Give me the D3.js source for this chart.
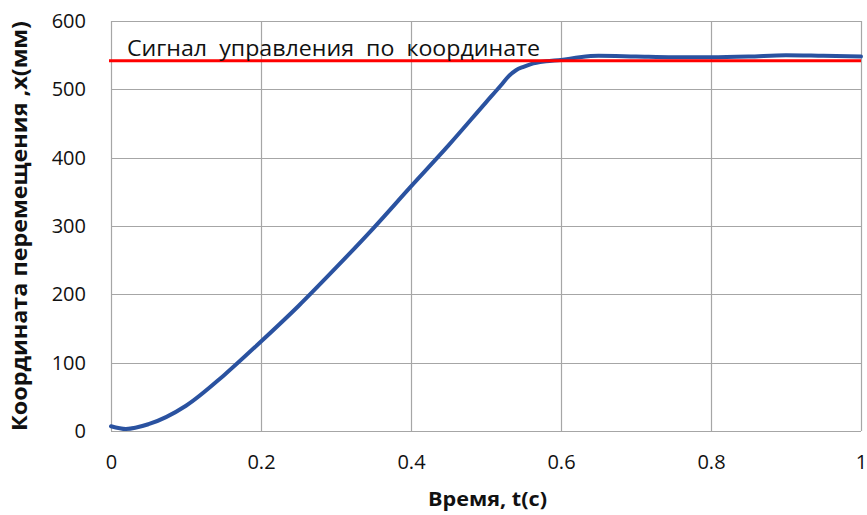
<!DOCTYPE html>
<html>
<head>
<meta charset="utf-8">
<script src="https://cdn.jsdelivr.net/npm/d3@7"></script>
<style>
  html, body { margin: 0; padding: 0; background: #fff; }
  svg { display: block; }
  text { font-family: "Open Sans", "Liberation Sans", sans-serif; }
</style>
</head>
<body>
<svg id="chart" width="867" height="515"></svg>
<script>
// Time samples, s
const timeValues = [0, 0.02, 0.05, 0.1, 0.15, 0.2, 0.25, 0.3, 0.35, 0.4, 0.45, 0.5,
  0.52, 0.53, 0.54, 0.55, 0.56, 0.58, 0.6, 0.625, 0.65, 0.7, 0.75, 0.8, 0.85, 0.9, 0.95, 1.0];
// Measured displacement, mm
const positionValues = [7, 3, 10, 37, 81, 131, 183, 239, 297, 358, 418, 481,
  506, 519, 528, 533, 537, 541, 543, 547, 549, 548, 547, 547, 548, 550, 549, 548];
// Control signal level, mm
const signalLevel = 542;
const signalLabel = "Сигнал  управления  по  координате";

const xTicks = [0, 0.2, 0.4, 0.6, 0.8, 1];
const xTickLabels = ["0", "0.2", "0.4", "0.6", "0.8", "1"];
const yTicks = [0, 100, 200, 300, 400, 500, 600];
const yTickLabels = ["0", "100", "200", "300", "400", "500", "600"];

const xTitle = "Время, t(c)";
const yTitle = "Координата перемещения ,x(мм)";

const margin = { left: 111, right: 6, top: 21, bottom: 84 };
const W = 867, H = 515;

const svg = d3.select("#chart");

const x = d3.scaleLinear().domain([0, 1]).range([margin.left, W - margin.right]);
const y = d3.scaleLinear().domain([0, 600]).range([H - margin.bottom, margin.top]);

// Grid
const grid = svg.append("g").attr("stroke", "#a6a6a6").attr("stroke-width", 1.2);
grid.selectAll("line.v").data(xTicks).join("line")
  .attr("x1", d => Math.round(x(d)) + 0.5).attr("x2", d => Math.round(x(d)) + 0.5)
  .attr("y1", y(0)).attr("y2", y(600));
grid.selectAll("line.h").data(yTicks).join("line")
  .attr("x1", x(0)).attr("x2", x(1))
  .attr("y1", d => Math.round(y(d)) + 0.5).attr("y2", d => Math.round(y(d)) + 0.5);

// Axes (labels only, no tick marks or domain lines)
const xAxis = d3.axisBottom(x).tickValues(xTicks)
  .tickFormat((d, i) => xTickLabels[i]).tickSize(0).tickPadding(24);
const gx = svg.append("g").attr("transform", `translate(0,${y(0)})`).call(xAxis);
gx.select(".domain").remove();
gx.selectAll("text").attr("font-size", 20).attr("fill", "#111")
  .style("font-family", "'Open Sans', sans-serif");

const yAxis = d3.axisLeft(y).tickValues(yTicks)
  .tickFormat((d, i) => yTickLabels[i]).tickSize(0).tickPadding(25);
const gy = svg.append("g").attr("transform", `translate(${x(0)},0)`).call(yAxis);
gy.select(".domain").remove();
gy.selectAll("text").attr("font-size", 20).attr("fill", "#111")
  .style("font-family", "'Open Sans', sans-serif");

// Titles
svg.append("text")
  .attr("x", 487.5).attr("y", 506)
  .attr("text-anchor", "middle")
  .attr("font-size", 20).attr("font-weight", "bold").attr("fill", "#111")
  .attr("textLength", 119).attr("lengthAdjust", "spacingAndGlyphs")
  .text(xTitle);

svg.append("text")
  .attr("transform", `translate(27,${(y(0) + y(600)) / 2}) rotate(-90)`)
  .attr("text-anchor", "middle")
  .attr("font-size", 21).attr("font-weight", "bold").attr("fill", "#111")
  .attr("textLength", 410).attr("lengthAdjust", "spacingAndGlyphs")
  .text(yTitle);

// Response curve
const data = timeValues.map((t, i) => ({ t, v: positionValues[i] }));
const line = d3.line().x(d => x(d.t)).y(d => y(d.v)).curve(d3.curveMonotoneX);
svg.append("path").datum(data)
  .attr("d", line)
  .attr("fill", "none")
  .attr("stroke", "#2a52a0")
  .attr("stroke-width", 4)
  .attr("stroke-linecap", "round");

// Control signal line
svg.append("line")
  .attr("x1", x(0) - 2).attr("x2", x(1))
  .attr("y1", y(signalLevel)).attr("y2", y(signalLevel))
  .attr("stroke", "#ff0000").attr("stroke-width", 3);

svg.append("text")
  .attr("x", 127).attr("y", 56)
  .attr("font-size", 22).attr("fill", "#111")
  .attr("textLength", 413).attr("lengthAdjust", "spacingAndGlyphs")
  .style("white-space", "pre")
  .text(signalLabel);
</script>
</body>
</html>
